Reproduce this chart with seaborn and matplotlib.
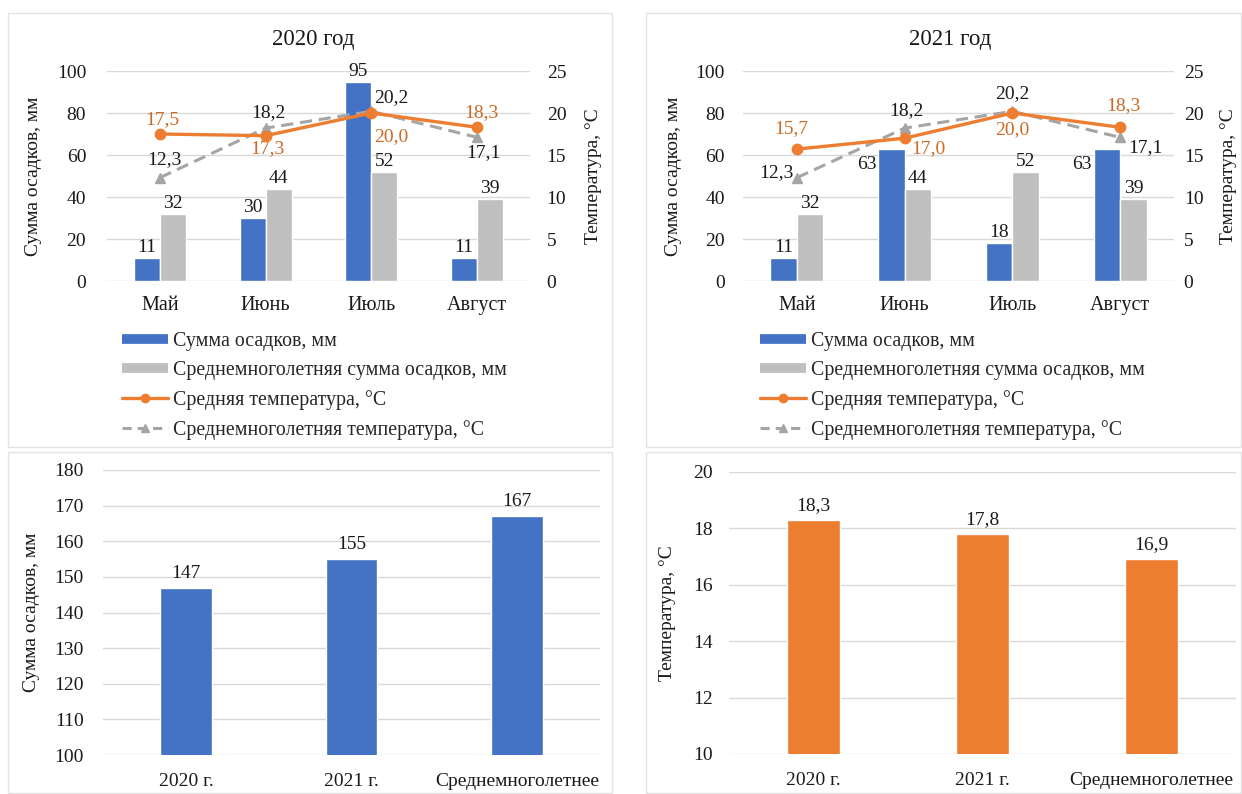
import matplotlib
matplotlib.use("Agg")
import matplotlib.pyplot as plt
from matplotlib.lines import Line2D
from matplotlib.patches import Rectangle
import seaborn as sns
import pandas as pd
import numpy as np

# ---------------- data ----------------
months = ["Май", "Июнь", "Июль", "Август"]
precip_2020 = [11, 30, 95, 11]
precip_2021 = [11, 63, 18, 63]
precip_norm = [32, 44, 52, 39]
temp_2020 = [17.5, 17.3, 20.0, 18.3]
temp_2021 = [15.7, 17.0, 20.0, 18.3]
temp_norm = [12.3, 18.2, 20.2, 17.1]

period_labels = ["2020 г.", "2021 г.", "Среднемноголетнее"]
precip_totals = [147, 155, 167]
temp_means = [18.3, 17.8, 16.9]

series_names = ["Сумма осадков, мм", "Среднемноголетняя сумма осадков, мм",
                "Средняя температура, °С", "Среднемноголетняя температура, °С"]

# ---------------- style ----------------
sns.set_theme(style="white")
plt.rcParams["font.family"] = ["Liberation Serif", "DejaVu Serif"]
FS = 14
BLUE = "#4472C4"
LGREY = "#BFBFBF"
ORANGE = "#ED7D31"
DGREY = "#A5A5A5"
LBL_OR = "#CB6A25"
TXT = "#1a1a1a"
GRID = "#D9D9D9"

W, H = 1242, 794
fig = plt.figure(figsize=(W / 100, H / 100), dpi=100)
fig.patch.set_facecolor("white")


def rect(x0, y0, x1, y1):
    return [x0 / W, 1 - y1 / H, (x1 - x0) / W, (y1 - y0) / H]


# panel borders
for (x0, y0, x1, y1) in [(8, 13, 612, 447), (646, 13, 1241, 447),
                         (8, 452, 612, 793), (646, 452, 1241, 793)]:
    fig.add_artist(Rectangle((x0 / W, 1 - y1 / H), (x1 - x0) / W, (y1 - y0) / H,
                             transform=fig.transFigure, fill=False,
                             edgecolor="#E3E3E3", lw=1))


def fmt1(v):
    return f"{v:.1f}".replace(".", ",")


def style_axes(ax):
    for s in ax.spines.values():
        s.set_visible(False)
    ax.tick_params(axis="both", length=0, labelsize=FS, colors=TXT)
    ax.set_xlabel("")
    ax.set_axisbelow(True)
    ax.yaxis.grid(True, color=GRID, lw=1)
    ax.xaxis.grid(False)


def top_chart(axrect, title, title_xy, precip, temp, bar_lbl_off, or_off, gr_off,
              ylab_x, ylab2_x, ypad, y2pad, leg_xy):
    ax = fig.add_axes(rect(*axrect))
    df = pd.DataFrame({
        "month": months * 2,
        "value": precip + precip_norm,
        "series": [series_names[0]] * 4 + [series_names[1]] * 4,
    })
    sns.barplot(data=df, x="month", y="value", hue="series", ax=ax,
                palette=[BLUE, LGREY], width=0.49, gap=0, saturation=1,
                legend=False, errorbar=None)
    ax.set_ylim(0, 100)
    ax.set_yticks(np.arange(0, 101, 20))
    ax.set_xlim(-0.5, 3.5)
    style_axes(ax)
    ax.tick_params(axis="x", pad=11, labelsize=FS + 0.5)
    ax.tick_params(axis="y", pad=ypad)
    ax.set_ylabel("Сумма осадков, мм", fontsize=FS, color=TXT)
    ax.yaxis.set_label_coords(ylab_x, 0.5)

    # bar labels
    for ci, cont in enumerate(ax.containers):
        vals = precip if ci == 0 else precip_norm
        for bi, (bar, v) in enumerate(zip(cont, vals)):
            dx, dy = bar_lbl_off[ci][bi]
            ax.annotate(str(v), (bar.get_x() + bar.get_width() / 2, bar.get_height()),
                        xytext=(dx, dy), textcoords="offset pixels",
                        ha="center", va="bottom", fontsize=FS, color=TXT)

    ax2 = ax.twinx()
    x = np.arange(len(months))
    ax2.plot(x, temp_norm, color=DGREY, lw=2.2, ls=(0, (4, 2.2)), marker="^",
             ms=7, zorder=3)
    ax2.plot(x, temp, color=ORANGE, lw=2.4, marker="o", ms=7.5, zorder=4)
    ax2.set_ylim(0, 25)
    ax2.set_yticks(np.arange(0, 26, 5))
    for s in ax2.spines.values():
        s.set_visible(False)
    ax2.tick_params(axis="y", length=0, labelsize=FS, colors=TXT, pad=y2pad)
    ax2.grid(False)
    ax2.set_ylabel("Температура, °С", fontsize=FS, color=TXT, rotation=90)
    ax2.yaxis.set_label_coords(ylab2_x, 0.5)

    for i, v in enumerate(temp):
        dx, dy = or_off[i]
        ax2.annotate(fmt1(v), (x[i], v), xytext=(dx, dy), textcoords="offset pixels",
                     ha="center", va="center", fontsize=FS, color=LBL_OR)
    for i, v in enumerate(temp_norm):
        dx, dy = gr_off[i]
        ax2.annotate(fmt1(v), (x[i], v), xytext=(dx, dy), textcoords="offset pixels",
                     ha="center", va="center", fontsize=FS, color=TXT)

    fig.text(title_xy[0] / W, 1 - title_xy[1] / H, title, ha="center", va="center",
             fontsize=16.5, color=TXT)

    handles = [
        Line2D([], [], color=BLUE, lw=7, solid_capstyle="butt"),
        Line2D([], [], color=LGREY, lw=7, solid_capstyle="butt"),
        Line2D([], [], color=ORANGE, lw=2.4, marker="o", ms=6),
        Line2D([], [], color=DGREY, lw=2.2, ls=(0, (3, 2)), marker="^", ms=6),
    ]
    fig.legend(handles, series_names, loc="upper left",
               bbox_to_anchor=(leg_xy[0] / W, 1 - leg_xy[1] / H),
               bbox_transform=fig.transFigure, frameon=False, fontsize=FS + 0.3,
               handlelength=2.3, handletextpad=0.25, labelspacing=0.5,
               borderpad=0, borderaxespad=0)
    return ax, ax2


# 2020
top_chart((107, 71, 530, 281), "2020 год", (313, 40), precip_2020, temp_2020,
          bar_lbl_off=[[(0, 2), (0, 2), (0, 2), (0, 2)], [(0, 2), (0, 2), (0, 2), (0, 2)]],
          or_off=[(2, 14), (2, -13), (20, -24), (4, 15)],
          gr_off=[(5, 18), (3, 16), (20, 14), (6, -15)],
          ylab_x=-0.154, ylab2_x=1.13, ypad=15, y2pad=12, leg_xy=(122, 332))

# 2021
top_chart((743, 71, 1174, 281), "2021 год", (950, 40), precip_2021, temp_2021,
          bar_lbl_off=[[(0, 2), (-25, -24), (0, 2), (-25, -24)], [(0, 2), (0, 2), (0, 2), (0, 2)]],
          or_off=[(-6, 21), (24, -10), (0, -17), (3, 22)],
          gr_off=[(-20, 5), (2, 18), (0, 18), (25, -10)],
          ylab_x=-0.142, ylab2_x=1.107, ypad=13, y2pad=7, leg_xy=(760, 332))


def bottom_chart(axrect, values, color, ylim, yticks, ylabel, ylab_x, ypad, fmt):
    ax = fig.add_axes(rect(*axrect))
    df = pd.DataFrame({"period": period_labels, "value": values})
    sns.barplot(data=df, x="period", y="value", ax=ax, color=color, width=0.31,
                saturation=1, errorbar=None)
    ax.set_ylim(*ylim)
    ax.set_yticks(yticks)
    ax.set_xlim(-0.5, 2.5)
    style_axes(ax)
    ax.tick_params(axis="x", pad=13)
    ax.tick_params(axis="y", pad=ypad)
    ax.set_ylabel(ylabel, fontsize=FS, color=TXT)
    ax.yaxis.set_label_coords(ylab_x, 0.5)
    for bar, v in zip(ax.containers[0], values):
        ax.annotate(fmt(v), (bar.get_x() + bar.get_width() / 2, bar.get_height()),
                    xytext=(0, 6), textcoords="offset pixels", ha="center", va="bottom",
                    fontsize=FS, color=TXT)
    return ax


bottom_chart((103, 470, 600, 755), precip_totals, BLUE, (100, 180),
             np.arange(100, 181, 10), "Сумма осадков, мм", -0.127, 14, lambda v: str(v))
bottom_chart((729, 472, 1236, 754), temp_means, ORANGE, (10, 20),
             np.arange(10, 21, 2), "Температура, °С", -0.104, 11.5, fmt1)

fig.savefig("out.png", dpi=100, facecolor="white")
